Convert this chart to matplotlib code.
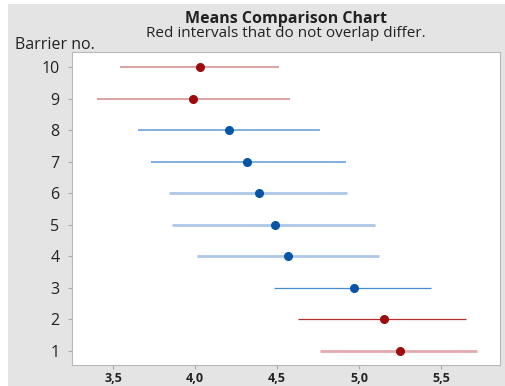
import matplotlib.pyplot as plt
import matplotlib.patches as mpatches

barrier = [10, 9, 8, 7, 6, 5, 4, 3, 2, 1]
mean = [4.03, 3.99, 4.21, 4.32, 4.39, 4.49, 4.57, 4.97, 5.15, 5.25]
lower = [3.54, 3.40, 3.65, 3.73, 3.84, 3.86, 4.01, 4.48, 4.63, 4.76]
upper = [4.51, 4.58, 4.76, 4.92, 4.93, 5.10, 5.12, 5.44, 5.65, 5.72]
group = ["red", "red", "blue", "blue", "blue", "blue", "blue", "blue", "red", "red"]
xticks = [3.5, 4.0, 4.5, 5.0, 5.5]
xlabels = ["3,5", "4,0", "4,5", "5,0", "5,5"]

# line look per row (the picture has slightly different shades)
line_col = ["#dba3a3", "#dba3a3", "#5b9bd5", "#5b9bd5", "#adc8e6",
            "#adc8e6", "#adc8e6", "#4a8bd0", "#b23030", "#e2aaaa"]
line_w = [1.4, 1.4, 1.1, 1.1, 2.0, 2.0, 2.0, 0.9, 0.9, 2.0]
dot_col = {"red": "#9c0c0c", "blue": "#0655a8"}

plt.rcParams['font.family'] = ['Open Sans', 'DejaVu Sans']

fig = plt.figure(figsize=(5.05, 3.86), dpi=100)
fig.patch.set_facecolor("#e4e4e4")
# white strips at top and left edge
fig.patches.append(mpatches.Rectangle((0, 0.99), 1, 0.01, transform=fig.transFigure,
                                      facecolor="white", edgecolor="none", zorder=0))
fig.patches.append(mpatches.Rectangle((0, 0), 0.016, 1, transform=fig.transFigure,
                                      facecolor="white", edgecolor="none", zorder=0))

ax = fig.add_axes([0.1426, 0.0544, 0.8474, 0.8106])
ax.set_facecolor("white")

for i in range(len(barrier)):
    ax.hlines(barrier[i], lower[i], upper[i], color=line_col[i], lw=line_w[i], zorder=2)
    ax.plot(mean[i], barrier[i], 'o', color=dot_col[group[i]], ms=5.5, zorder=3)

ax.set_xlim(3.25, 5.86)
ax.set_ylim(0.55, 10.48)
ax.set_yticks(barrier)
ax.set_yticklabels([str(b) for b in barrier], fontsize=11.5, color="#222222")
ax.set_xticks(xticks)
ax.set_xticklabels(xlabels, fontsize=9, fontweight="bold", color="#333333")
for s in ax.spines.values():
    s.set_color("#b8b8b8")
ax.tick_params(axis="both", colors="#aaaaaa", length=3, width=0.8, labelcolor="#222222")
ax.tick_params(axis="y", pad=6)
ax.tick_params(axis="x", pad=2)

fig.text(0.566, 0.950, "Means Comparison Chart", ha="center", va="center",
         fontsize=11.5, fontweight="bold", color="#222222")
fig.text(0.566, 0.913, "Red intervals that do not overlap differ.", ha="center",
         va="center", fontsize=11, color="#222222")
fig.text(0.03, 0.883, "Barrier no.", ha="left", va="center", fontsize=11.5, color="#222222")

fig.savefig("out.png", dpi=100, facecolor=fig.get_facecolor())
